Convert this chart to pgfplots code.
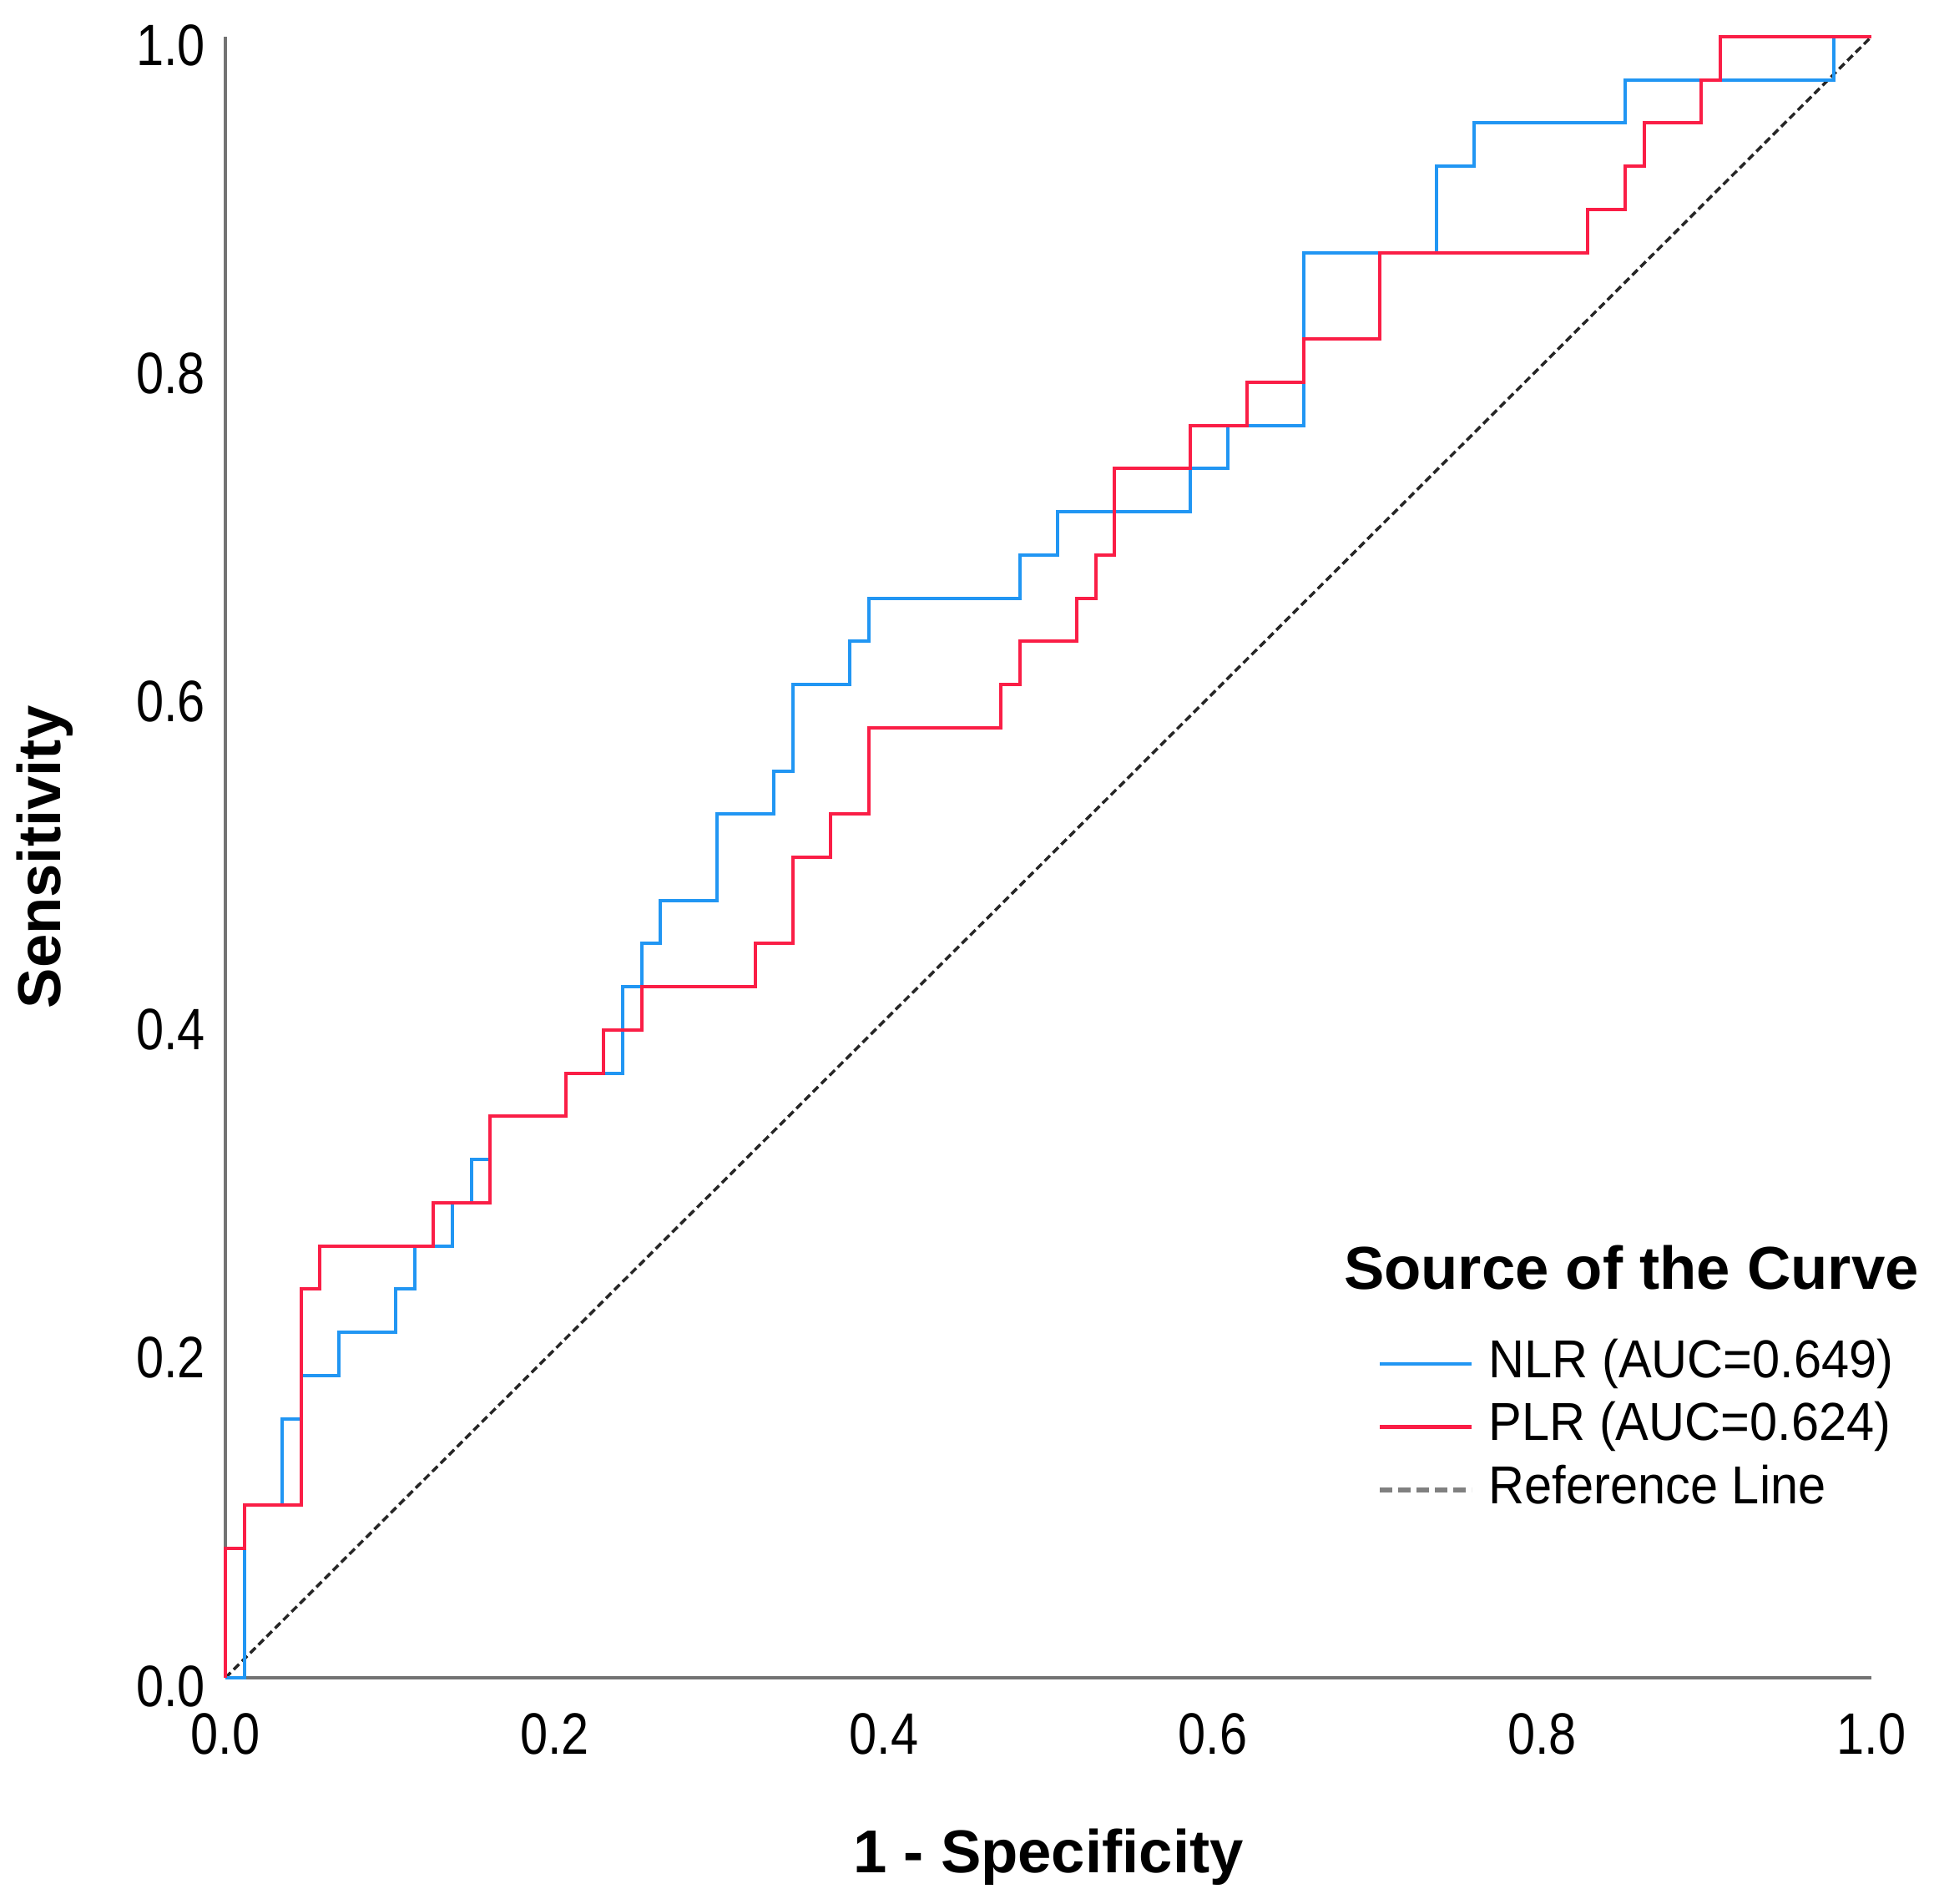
\documentclass[border=0pt]{standalone}
\usepackage{fontspec}
\setmainfont{Liberation Sans}
\newfontfamily\tickfont[FakeStretch=0.85]{Liberation Sans}
\newfontfamily\legfont[FakeStretch=0.93]{Liberation Sans}
\usepackage{pgfplots}
\usepackage{pgfplotstable}
\pgfplotsset{compat=1.18}
\definecolor{nlrblue}{RGB}{33,150,243}
\definecolor{plrred}{RGB}{250,30,70}

\pgfplotstableread{
x y
0 0
0.0115 0
0.0115 0.1053
0.0345 0.1053
0.0345 0.1579
0.0460 0.1579
0.0460 0.1842
0.0690 0.1842
0.0690 0.2105
0.1034 0.2105
0.1034 0.2368
0.1149 0.2368
0.1149 0.2632
0.1379 0.2632
0.1379 0.2895
0.1494 0.2895
0.1494 0.3158
0.1609 0.3158
0.1609 0.3421
0.2069 0.3421
0.2069 0.3684
0.2414 0.3684
0.2414 0.4211
0.2529 0.4211
0.2529 0.4474
0.2644 0.4474
0.2644 0.4737
0.2989 0.4737
0.2989 0.5263
0.3333 0.5263
0.3333 0.5526
0.3448 0.5526
0.3448 0.6053
0.3793 0.6053
0.3793 0.6316
0.3908 0.6316
0.3908 0.6579
0.4828 0.6579
0.4828 0.6842
0.5057 0.6842
0.5057 0.7105
0.5862 0.7105
0.5862 0.7368
0.6092 0.7368
0.6092 0.7632
0.6552 0.7632
0.6552 0.8684
0.7356 0.8684
0.7356 0.9211
0.7586 0.9211
0.7586 0.9474
0.8506 0.9474
0.8506 0.9737
0.9770 0.9737
0.9770 1
1 1
}\nlrdata

\pgfplotstableread{
x y
0 0
0 0.0789
0.0115 0.0789
0.0115 0.1053
0.0460 0.1053
0.0460 0.2368
0.0575 0.2368
0.0575 0.2632
0.1264 0.2632
0.1264 0.2895
0.1609 0.2895
0.1609 0.3421
0.2069 0.3421
0.2069 0.3684
0.2299 0.3684
0.2299 0.3947
0.2529 0.3947
0.2529 0.4211
0.3218 0.4211
0.3218 0.4474
0.3448 0.4474
0.3448 0.5
0.3678 0.5
0.3678 0.5263
0.3908 0.5263
0.3908 0.5789
0.4713 0.5789
0.4713 0.6053
0.4828 0.6053
0.4828 0.6316
0.5172 0.6316
0.5172 0.6579
0.5287 0.6579
0.5287 0.6842
0.5402 0.6842
0.5402 0.7368
0.5862 0.7368
0.5862 0.7632
0.6207 0.7632
0.6207 0.7895
0.6552 0.7895
0.6552 0.8158
0.7011 0.8158
0.7011 0.8684
0.8276 0.8684
0.8276 0.8947
0.8506 0.8947
0.8506 0.9211
0.8621 0.9211
0.8621 0.9474
0.8966 0.9474
0.8966 0.9737
0.9080 0.9737
0.9080 1
1 1
}\plrdata

\begin{document}
\begin{tikzpicture}
\begin{axis}[
  name=ax,
  scale only axis,
  width=394.4pt, height=393.2pt,
  xmin=0, xmax=1, ymin=0, ymax=1,
  clip=false,
  axis x line*=bottom, axis y line*=left,
  axis line style={black!55, line width=0.8pt},
  xtick={0,0.2,0.4,0.6,0.8,1},
  xticklabels={0.0,0.2,0.4,0.6,0.8,1.0},
  ytick={0,0.2,0.4,0.6,0.8,1},
  yticklabels={0.0,0.2,0.4,0.6,0.8,1.0},
  major tick length=0pt,
  tick style={draw=none},
  xticklabel style={font=\tickfont\fontsize{14}{16}\selectfont, inner sep=0pt, anchor=north, yshift=-8.4pt},
  yticklabel style={font=\tickfont\fontsize{14}{16}\selectfont, inner sep=0pt, anchor=east, xshift=-4.6pt, yshift=-2pt},
  xlabel={1 - Specificity},
  ylabel={Sensitivity},
  xlabel style={font=\bfseries\fontsize{14.5}{17}\selectfont, at={(axis description cs:0.5,-0.109)}, anchor=center},
  ylabel style={font=\bfseries\fontsize{14.5}{17}\selectfont, at={(axis description cs:-0.1095,0.5)}, anchor=center, rotate=0},
  legend image code/.code={\draw[#1] (0pt,0pt) -- (22pt,0pt);},
  legend cell align=left,
  legend style={at={(axis description cs:0.7000,0.206)}, anchor=north west,
    draw=none, fill=none, inner sep=0pt, outer sep=0pt, row sep=3.5pt,
    font=\legfont\fontsize{12.8}{15}\selectfont,
    nodes={inner sep=0pt, text height=9pt, text depth=2.6pt},
    /tikz/every odd column/.append style={column sep=3.6pt}},
]
\addlegendimage{nlrblue, line width=0.9pt}
\addlegendentry{NLR (AUC=0.649)}
\addlegendimage{plrred, line width=1.1pt}
\addlegendentry{PLR (AUC=0.624)}
\addlegendimage{black!50, line width=1.1pt, dash pattern=on 3pt off 1.4pt}
\addlegendentry{Reference Line}

\addplot[forget plot, black!85, line width=0.7pt, dash pattern=on 1.8pt off 1pt] coordinates {(0,0) (1,1)};
\addplot[forget plot, nlrblue, line width=0.8pt] table[x=x,y=y] {\nlrdata};
\addplot[forget plot, plrred, line width=0.8pt] table[x=x,y=y] {\plrdata};

\node[anchor=base west, inner sep=0pt, font=\bfseries\fontsize{14.5}{17}\selectfont]
  at (axis description cs:0.679,0.237) {Source of the Curve};
\end{axis}
\pgfresetboundingbox
\path[use as bounding box] ([xshift=-54pt,yshift=-54pt]ax.south west) rectangle ++(463.4pt,456pt);
\end{tikzpicture}
\end{document}
